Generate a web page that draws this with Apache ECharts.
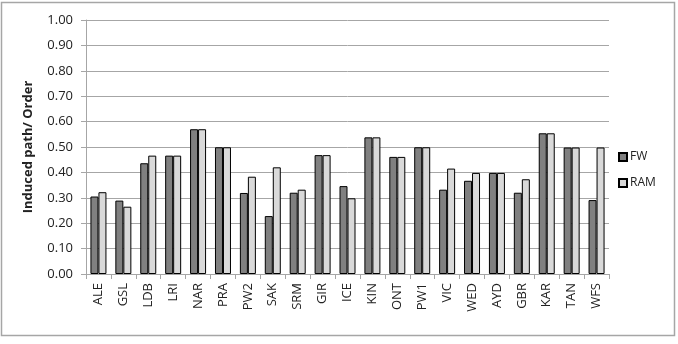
<!DOCTYPE html>
<html>
<head>
<meta charset="utf-8">
<script src="https://cdn.jsdelivr.net/npm/echarts@6/dist/echarts.min.js"></script>
<style>
html,body{margin:0;padding:0;background:#fff;}
#c{width:678px;height:344px;}
</style>
</head>
<body>
<div id="c"></div>
<script>
var categories = ["ALE","GSL","LDB","LRI","NAR","PRA","PW2","SAK","SRM","GIR","ICE","KIN","ONT","PW1","VIC","WED","AYD","GBR","KAR","TAN","WFS"];
var fwValues  = [0.305,0.289,0.436,0.466,0.570,0.499,0.319,0.228,0.320,0.468,0.346,0.538,0.461,0.499,0.332,0.367,0.398,0.320,0.554,0.498,0.291];
var ramValues = [0.322,0.265,0.466,0.466,0.570,0.499,0.383,0.420,0.332,0.468,0.298,0.538,0.461,0.499,0.415,0.398,0.398,0.373,0.554,0.498,0.498];
var yTicks = [0,0.1,0.2,0.3,0.4,0.5,0.6,0.7,0.8,0.9,1.0];

var FONT = "Open Sans";
var chart = echarts.init(document.getElementById('c'), null, {renderer:'canvas'});
chart.setOption({
  animation:false,
  textStyle:{fontFamily:FONT},
  graphic:[{type:'rect',shape:{x:1.5,y:2.5,width:673,height:333},style:{fill:'none',stroke:'#a6a6a6',lineWidth:1.5},silent:true,z:-1}],
  grid:{left:86,right:69,top:20,bottom:70},
  legend:{
    orient:'vertical',left:613,top:146,itemWidth:8,itemHeight:8,itemGap:14,icon:'rect',
    textStyle:{fontFamily:FONT,fontSize:12,color:'#222',padding:[0,0,0,-2]},
    data:['FW','RAM']
  },
  xAxis:{
    type:'category',data:categories,
    axisLine:{lineStyle:{color:'#a6a6a6'}},
    axisTick:{show:true,length:5,lineStyle:{color:'#a6a6a6'}},
    axisLabel:{rotate:90,fontSize:13,color:'#222',fontFamily:FONT,margin:9}
  },
  yAxis:{
    type:'value',min:yTicks[0],max:yTicks[yTicks.length-1],interval:0.1,
    name:'Induced path/ Order',nameLocation:'middle',nameRotate:90,nameGap:51,
    nameTextStyle:{fontWeight:'bold',fontSize:13,color:'#222',fontFamily:FONT},
    axisLine:{show:true,lineStyle:{color:'#a6a6a6'}},
    axisTick:{show:true,length:5,lineStyle:{color:'#a6a6a6'}},
    splitLine:{lineStyle:{color:'#a6a6a6'}},
    axisLabel:{fontSize:13,color:'#222',fontFamily:FONT,margin:13,formatter:function(v){return v.toFixed(2);}}
  },
  series:[
    {name:'FW',type:'bar',data:fwValues,barWidth:8,barGap:'0%',
     itemStyle:{color:'#808080',borderColor:'#000',borderWidth:1}},
    {name:'RAM',type:'bar',data:ramValues,barWidth:8,barGap:'0%',
     itemStyle:{color:'#d9d9d9',borderColor:'#000',borderWidth:1}}
  ]
});
</script>
</body>
</html>
